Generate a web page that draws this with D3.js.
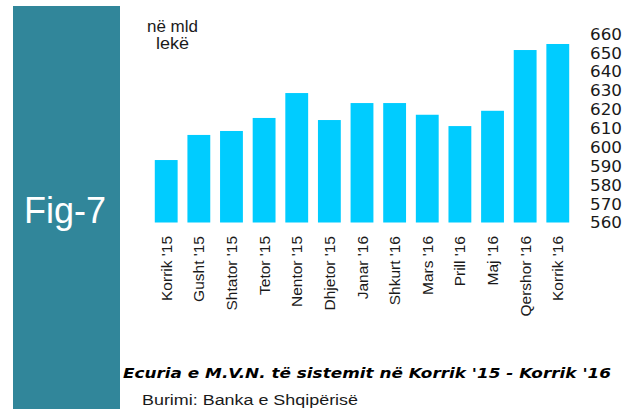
<!DOCTYPE html>
<html>
<head>
<meta charset="utf-8">
<script src="https://d3js.org/d3.v7.min.js"></script>
<style>
  body { margin: 0; background: #fff; }
</style>
</head>
<body>
<script>
// data
var months = ["Korrik '15", "Gusht '15", "Shtator '15", "Tetor '15", "Nentor '15", "Dhjetor '15",
              "Janar '16", "Shkurt '16", "Mars '16", "Prill '16", "Maj '16", "Qershor '16", "Korrik '16"];
var mvn = [593.1, 606.4, 608.5, 615.4, 628.6, 614.3, 623.3, 623.3, 617.1, 611.1, 619.2, 651.4, 654.6];
var yTicks = [560, 570, 580, 590, 600, 610, 620, 630, 640, 650, 660];

var width = 636, height = 412;

var svg = d3.select('body')
    .append('svg')
    .attr('width', width)
    .attr('height', height);

// side panel with figure number
svg.append('rect')
    .attr('x', 13).attr('y', 6)
    .attr('width', 107).attr('height', 403)
    .attr('fill', '#31869a');

svg.append('text')
    .attr('x', 65).attr('y', 223)
    .attr('text-anchor', 'middle')
    .attr('fill', '#fff')
    .style('font-family', '"Liberation Sans", Arial, sans-serif')
    .style('font-size', '36px')
    .text('Fig-7');

// scales
var xScale = d3.scaleBand()
    .domain(months)
    .range([145, 579])
    .padding(0.3);

var yScale = d3.scaleLinear()
    .domain([560, 660])
    .range([222.5, 33.8]);

// bars
svg.selectAll('rect.bar').data(mvn)
    .enter()
    .append('rect')
    .attr('class', 'bar')
    .attr('x', function(d, i) { return xScale(months[i]); })
    .attr('y', function(d) { return yScale(d); })
    .attr('width', xScale.bandwidth())
    .attr('height', function(d) { return yScale(560) - yScale(d); })
    .attr('fill', '#00ccff');

// y axis on the right, labels only
var yAxis = d3.axisRight(yScale).tickValues(yTicks).tickSize(0).tickPadding(0);
var yG = svg.append('g').attr('transform', 'translate(590,0)').call(yAxis);
yG.select('.domain').remove();
yG.selectAll('text')
    .attr('fill', '#1a1a1a')
    .attr('dy', '0.36em')
    .attr('textLength', 32)
    .attr('lengthAdjust', 'spacingAndGlyphs')
    .style('font-family', '"DejaVu Sans", sans-serif')
    .style('font-size', '15px');

// x axis, rotated month labels
var xAxis = d3.axisBottom(xScale).tickSize(0);
var xG = svg.append('g').attr('transform', 'translate(0,236)').call(xAxis);
xG.select('.domain').remove();
xG.selectAll('text')
    .attr('fill', '#1a1a1a')
    .attr('x', 0).attr('y', 0)
    .attr('dy', '0.36em')
    .attr('transform', 'rotate(-90)')
    .attr('text-anchor', 'end')
    .style('font-family', '"Liberation Sans", Arial, sans-serif')
    .style('font-size', '15.5px');

// unit label
var unit = svg.append('text')
    .attr('text-anchor', 'middle')
    .attr('fill', '#1a1a1a')
    .style('font-family', '"Liberation Sans", Arial, sans-serif')
    .style('font-size', '16px');
unit.append('tspan').attr('x', 172.5).attr('y', 31.7).attr('textLength', 51).attr('lengthAdjust', 'spacingAndGlyphs').text('në mld');
unit.append('tspan').attr('x', 172.5).attr('y', 49.3).attr('textLength', 33).attr('lengthAdjust', 'spacingAndGlyphs').text('lekë');

// title and source
svg.append('text')
    .attr('x', 123).attr('y', 378)
    .attr('fill', '#000')
    .attr('textLength', 488)
    .attr('lengthAdjust', 'spacingAndGlyphs')
    .style('font-family', '"DejaVu Sans", sans-serif')
    .style('font-weight', 'bold')
    .style('font-style', 'italic')
    .style('font-size', '14px')
    .text("Ecuria e M.V.N. të sistemit në Korrik '15 - Korrik '16");

svg.append('text')
    .attr('x', 142).attr('y', 405)
    .attr('fill', '#1a1a1a')
    .attr('textLength', 216)
    .attr('lengthAdjust', 'spacingAndGlyphs')
    .style('font-family', '"Liberation Sans", Arial, sans-serif')
    .style('font-size', '14px')
    .text('Burimi: Banka e Shqipërisë');
</script>
</body>
</html>
